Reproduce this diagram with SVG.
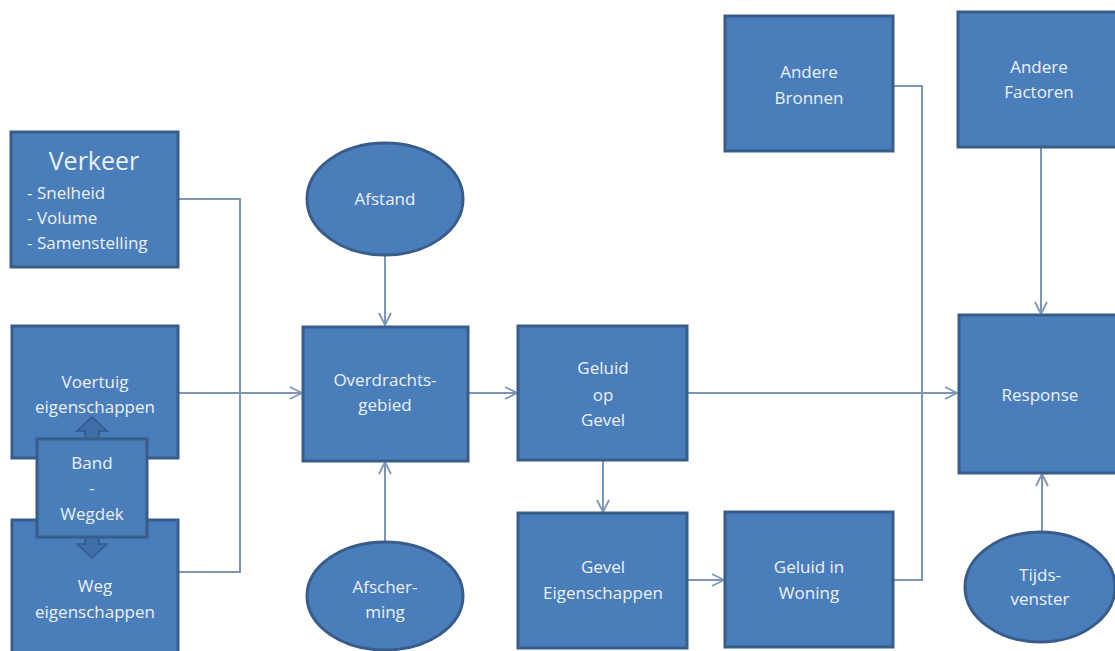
<svg xmlns="http://www.w3.org/2000/svg" width="1115" height="651" viewBox="0 0 1115 651">
<defs>
<style>
.box{fill:#4a7ebb;stroke:#385d8a;stroke-width:3}
.ell{fill:#4a7ebb;stroke:#385d8a;stroke-width:3}
.t{font-family:"Open Sans","Noto Sans",sans-serif;font-size:17px;fill:#eaf0fa;text-anchor:middle}
.tl{font-family:"Open Sans","Noto Sans",sans-serif;font-size:17px;fill:#eaf0fa}
.c{fill:none;stroke:#7e95b8;stroke-width:2}
.blk{fill:#3f6ea6;stroke:#33598a;stroke-width:1.5}
</style>
<marker id="ah" viewBox="0 0 14 14" refX="13" refY="7" markerWidth="14" markerHeight="14" markerUnits="userSpaceOnUse" orient="auto">
<path d="M1,1 L13,7 L1,13" fill="none" stroke="#7e95b8" stroke-width="1.8"/>
</marker>
</defs>
<rect width="1115" height="651" fill="#ffffff"/>

<g id="connectors">
<polyline class="c" points="178,199 240,199 240,572 178,572"/>
<line class="c" x1="178" y1="393" x2="302" y2="393" marker-end="url(#ah)"/>
<line class="c" x1="385" y1="256" x2="385" y2="325" marker-end="url(#ah)"/>
<line class="c" x1="385" y1="542" x2="385" y2="462" marker-end="url(#ah)"/>
<line class="c" x1="468" y1="393" x2="517" y2="393" marker-end="url(#ah)"/>
<line class="c" x1="687" y1="393" x2="957" y2="393" marker-end="url(#ah)"/>
<line class="c" x1="603" y1="460" x2="603" y2="512" marker-end="url(#ah)"/>
<line class="c" x1="687" y1="580" x2="724" y2="580" marker-end="url(#ah)"/>
<polyline class="c" points="893,580 922,580 922,86 893,86"/>
<line class="c" x1="1041" y1="148" x2="1041" y2="314" marker-end="url(#ah)"/>
<line class="c" x1="1042" y1="532" x2="1042" y2="474" marker-end="url(#ah)"/>
</g>

<g id="verkeer">
<rect class="box" x="11" y="132" width="167" height="135"/>
<text class="t" x="94" y="170" style="font-size:25px">Verkeer</text>
<text class="tl" x="27" y="199">- Snelheid</text>
<text class="tl" x="27" y="224">- Volume</text>
<text class="tl" x="27" y="249">- Samenstelling</text>
</g>

<g id="voertuig">
<rect class="box" x="12" y="326" width="166" height="132"/>
<text class="t" x="95" y="388">Voertuig</text>
<text class="t" x="95" y="413">eigenschappen</text>
</g>

<g id="weg">
<rect class="box" x="12" y="520" width="166" height="140"/>
<text class="t" x="95" y="592">Weg</text>
<text class="t" x="95" y="618">eigenschappen</text>
</g>

<g id="arrows-band">
<path class="blk" d="M92,417 L107,431 L99,431 L99,439 L85,439 L85,431 L77,431 Z"/>
<path class="blk" d="M92,558 L107,544 L99,544 L99,537 L85,537 L85,544 L77,544 Z"/>
</g>

<g id="band">
<rect class="box" x="37" y="439" width="110" height="98"/>
<text class="t" x="92" y="469">Band</text>
<text class="t" x="92" y="494">-</text>
<text class="t" x="92" y="520">Wegdek</text>
</g>

<g id="afstand">
<ellipse class="ell" cx="385" cy="199" rx="78" ry="56"/>
<text class="t" x="385" y="205">Afstand</text>
</g>

<g id="overdracht">
<rect class="box" x="303" y="327" width="165" height="134"/>
<text class="t" x="385" y="386">Overdrachts-</text>
<text class="t" x="385" y="411">gebied</text>
</g>

<g id="afscherming">
<ellipse class="ell" cx="385" cy="596" rx="78" ry="54"/>
<text class="t" x="385" y="593">Afscher-</text>
<text class="t" x="385" y="618">ming</text>
</g>

<g id="geluid-gevel">
<rect class="box" x="518" y="326" width="169" height="134"/>
<text class="t" x="603" y="374">Geluid</text>
<text class="t" x="603" y="401">op</text>
<text class="t" x="603" y="426">Gevel</text>
</g>

<g id="gevel-eig">
<rect class="box" x="518" y="513" width="169" height="135"/>
<text class="t" x="603" y="573">Gevel</text>
<text class="t" x="603" y="599">Eigenschappen</text>
</g>

<g id="geluid-woning">
<rect class="box" x="725" y="512" width="168" height="135"/>
<text class="t" x="809" y="573">Geluid in</text>
<text class="t" x="809" y="599">Woning</text>
</g>

<g id="andere-bronnen">
<rect class="box" x="725" y="16" width="168" height="135"/>
<text class="t" x="809" y="78">Andere</text>
<text class="t" x="809" y="104">Bronnen</text>
</g>

<g id="andere-factoren">
<rect class="box" x="958" y="12" width="162" height="135"/>
<text class="t" x="1039" y="73">Andere</text>
<text class="t" x="1039" y="98">Factoren</text>
</g>

<g id="response">
<rect class="box" x="959" y="315" width="162" height="158"/>
<text class="t" x="1040" y="401">Response</text>
</g>

<g id="tijdsvenster">
<ellipse class="ell" cx="1040" cy="587" rx="75" ry="55"/>
<text class="t" x="1040" y="581">Tijds-</text>
<text class="t" x="1040" y="605">venster</text>
</g>
</svg>
